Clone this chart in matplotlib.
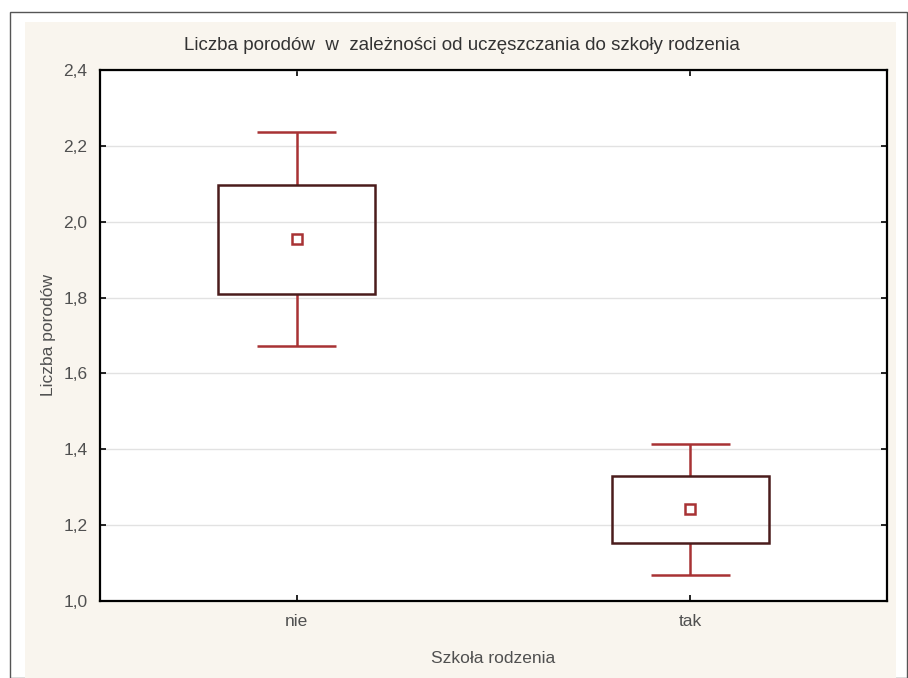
import matplotlib.pyplot as plt
from matplotlib.patches import Rectangle

plt.rcParams['font.family'] = ['Liberation Sans', 'DejaVu Sans']

categories = ["nie", "tak"]
means = [1.955, 1.242]
box_lo = [1.810, 1.152]
box_hi = [2.098, 1.330]
whisk_lo = [1.672, 1.068]
whisk_hi = [2.237, 1.413]
yticks = [1.0, 1.2, 1.4, 1.6, 1.8, 2.0, 2.2, 2.4]

box_col = "#4a1c1c"
whisk_col = "#a83234"

fig = plt.figure(figsize=(9.08, 6.78), dpi=100)
fig.patch.set_facecolor("white")

# outer frame and cream panel, kept behind the axes
fig.patches.append(Rectangle((10 / 908, 0), 897 / 908, 1 - 12 / 678, transform=fig.transFigure,
                             facecolor="white", edgecolor="#555555", lw=1.0, zorder=-10))
fig.patches.append(Rectangle((25 / 908, 0), 871 / 908, 1 - 22 / 678, transform=fig.transFigure,
                             facecolor="#f9f5ee", edgecolor="none", zorder=-9))

ax = fig.add_axes([100 / 908, 1 - 601 / 678, 787 / 908, 531 / 678])
ax.set_zorder(1)
ax.set_facecolor("white")

xs = list(range(len(categories)))
ax.vlines(xs, whisk_lo, box_lo, color=whisk_col, lw=1.8, zorder=3)
ax.vlines(xs, box_hi, whisk_hi, color=whisk_col, lw=1.8, zorder=3)
ax.hlines(whisk_lo, [x - 0.1 for x in xs], [x + 0.1 for x in xs], color=whisk_col, lw=1.8, zorder=3)
ax.hlines(whisk_hi, [x - 0.1 for x in xs], [x + 0.1 for x in xs], color=whisk_col, lw=1.8, zorder=3)
ax.bar(xs, [h - l for h, l in zip(box_hi, box_lo)], bottom=box_lo, width=0.4,
       fill=False, edgecolor=box_col, lw=1.8, zorder=4)
ax.plot(xs, means, ls="none", marker="s", ms=6.5, mfc="white", mec=whisk_col, mew=1.8, zorder=5)

ax.set_xlim(-0.5, 1.5)
ax.set_ylim(1.0, 2.4)
ax.set_xticks(xs)
ax.set_xticklabels(categories)
ax.set_yticks(yticks)
ax.set_yticklabels([f"{v:.1f}".replace(".", ",") for v in yticks])
ax.yaxis.grid(True, color="#e2e2e2", lw=1.0)
ax.set_axisbelow(True)
ax.tick_params(direction="in", length=4, width=1.2, top=True, right=True,
               labelsize=12.5, labelcolor="#505050", colors="black", pad=9)
ax.tick_params(axis="x", pad=9)
for s in ax.spines.values():
    s.set_linewidth(1.6)
    s.set_color("black")

fig.text(462 / 908, 1 - 45 / 678, "Liczba porodów  w  zależności od uczęszczania do szkoły rodzenia",
         fontsize=13.5, color="#333333", ha="center", va="center")
ax.set_xlabel("Szkoła rodzenia", fontsize=12.5, color="#505050", labelpad=16)
ax.set_ylabel("Liczba porodów", fontsize=12.5, color="#505050", labelpad=5)

fig.savefig("out.png", dpi=100)
